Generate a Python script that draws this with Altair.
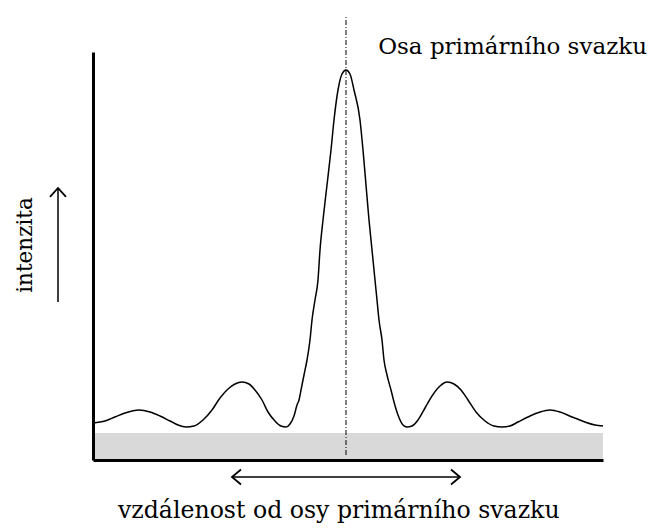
import altair as alt
import pandas as pd

# distance from primary beam axis (px units) and intensity
distance = [-253, -241, -231, -221, -207, -196, -186, -176, -168, -160, -152, -143, -134,
            -126, -118, -111, -104, -97, -91, -84, -78, -71, -65, -60, -56, -52, -49, -47,
            -45, -42, -39, -36, -34, -31, -28, -26, -23, -19, -15, -12, -8, -4, 0,
            4, 8, 14, 17, 20, 23, 26, 29, 31, 33, 36, 38, 41, 45, 48, 52, 57, 61, 66, 72,
            79, 86, 94, 101, 108, 115, 122, 130, 139, 148, 156, 164, 172, 182, 194, 204,
            214, 226, 239, 249, 257]
intensity = [37, 39, 43, 47, 50, 48, 44, 39, 35, 33, 34, 40, 50,
             62, 71, 76, 78, 76, 70, 60, 48, 39, 34, 33, 36, 44, 55, 60,
             70, 85, 100, 120, 140, 160, 180, 210, 240, 275, 310, 340, 370, 386, 390,
             386, 370, 340, 310, 275, 240, 210, 180, 160, 140, 120, 100, 85, 70, 58, 45, 35, 33, 34, 40,
             52, 64, 74, 78, 76, 70, 60, 48, 39, 34, 33, 34, 38, 43, 48, 50,
             48, 43, 38, 35, 34]

x_range = [-253, 257]
y_range = [0, 408]
background_level = 27
axis_span = [5, 445]
arrow_span = [-114, 114]

title_top = "Osa primárního svazku"
title_y = "intenzita"
title_x = "vzdálenost od osy primárního svazku"

curve_df = pd.DataFrame({"d": distance, "i": intensity})
band_df = pd.DataFrame({"x0": [x_range[0]], "x1": [x_range[1]], "y0": [0], "y1": [background_level]})

FONT = "DejaVu Serif"

xs = alt.Scale(domain=x_range, nice=False, zero=False)
ys = alt.Scale(domain=y_range, nice=False, zero=False)
ax = alt.Axis(domain=True, domainWidth=3, domainColor="black", ticks=False, labels=False,
              grid=False, title=None, zindex=1)

band = alt.Chart(band_df).mark_rect(color="#d9d9d9").encode(
    x=alt.X("x0:Q", scale=xs, axis=ax), x2="x1:Q",
    y=alt.Y("y0:Q", scale=ys, axis=ax), y2="y1:Q")

curve = alt.Chart(curve_df).mark_line(color="black", strokeWidth=1.5, interpolate="monotone").encode(
    x=alt.X("d:Q", scale=xs, axis=ax),
    y=alt.Y("i:Q", scale=ys, axis=ax))

center = alt.Chart(band_df).mark_rule(color="black", strokeWidth=1, strokeDash=[5, 2, 1, 2]).encode(
    x=alt.datum(0), y=alt.datum(axis_span[0]), y2=alt.datum(axis_span[1]))

harrow = alt.Chart(band_df).mark_rule(color="black", strokeWidth=1.5).encode(
    x=alt.datum(arrow_span[0]), x2=alt.datum(arrow_span[1]), y=alt.value(425))
lhead = alt.Chart(band_df).mark_point(shape="M 1.2 -1 L 0 0 L 1.2 1", filled=False, size=225,
                                      color="black", strokeWidth=1.8, opacity=1).encode(
    x=alt.datum(arrow_span[0]), y=alt.value(425))
rhead = alt.Chart(band_df).mark_point(shape="M -1.2 -1 L 0 0 L -1.2 1", filled=False, size=225,
                                      color="black", strokeWidth=1.8, opacity=1).encode(
    x=alt.datum(arrow_span[1]), y=alt.value(425))

varrow = alt.Chart(band_df).mark_rule(color="black", strokeWidth=1.5).encode(
    x=alt.value(-35), y=alt.value(136), y2=alt.value(250))
uhead = alt.Chart(band_df).mark_point(shape="M -1 1.1 L 0 0 L 1 1.1", filled=False, size=256,
                                      color="black", strokeWidth=1.8, opacity=1).encode(
    x=alt.value(-35), y=alt.value(136))

t_top = alt.Chart(band_df).mark_text(text=title_top, font=FONT, fontSize=23, align="right",
                                     baseline="alphabetic", color="black").encode(
    x=alt.value(554), y=alt.value(2))
t_y = alt.Chart(band_df).mark_text(text=title_y, font=FONT, fontSize=21.5, align="center",
                                   baseline="middle", angle=270, color="black").encode(
    x=alt.value(-67), y=alt.value(193))
t_x = alt.Chart(band_df).mark_text(text=title_x, font=FONT, fontSize=23.6, align="left",
                                   baseline="alphabetic", color="black").encode(
    x=alt.value(25), y=alt.value(466))

chart = alt.layer(band, curve, center, harrow, lhead, rhead, varrow, uhead, t_top, t_y, t_x).properties(
    width=510, height=408,
    autosize=alt.AutoSizeParams(type="none"),
    padding={"left": 85, "top": 44, "right": 46, "bottom": 64},
    background="white",
).configure_view(stroke=None)

chart.save("out.html", embed_options={"renderer": "svg", "actions": False})
